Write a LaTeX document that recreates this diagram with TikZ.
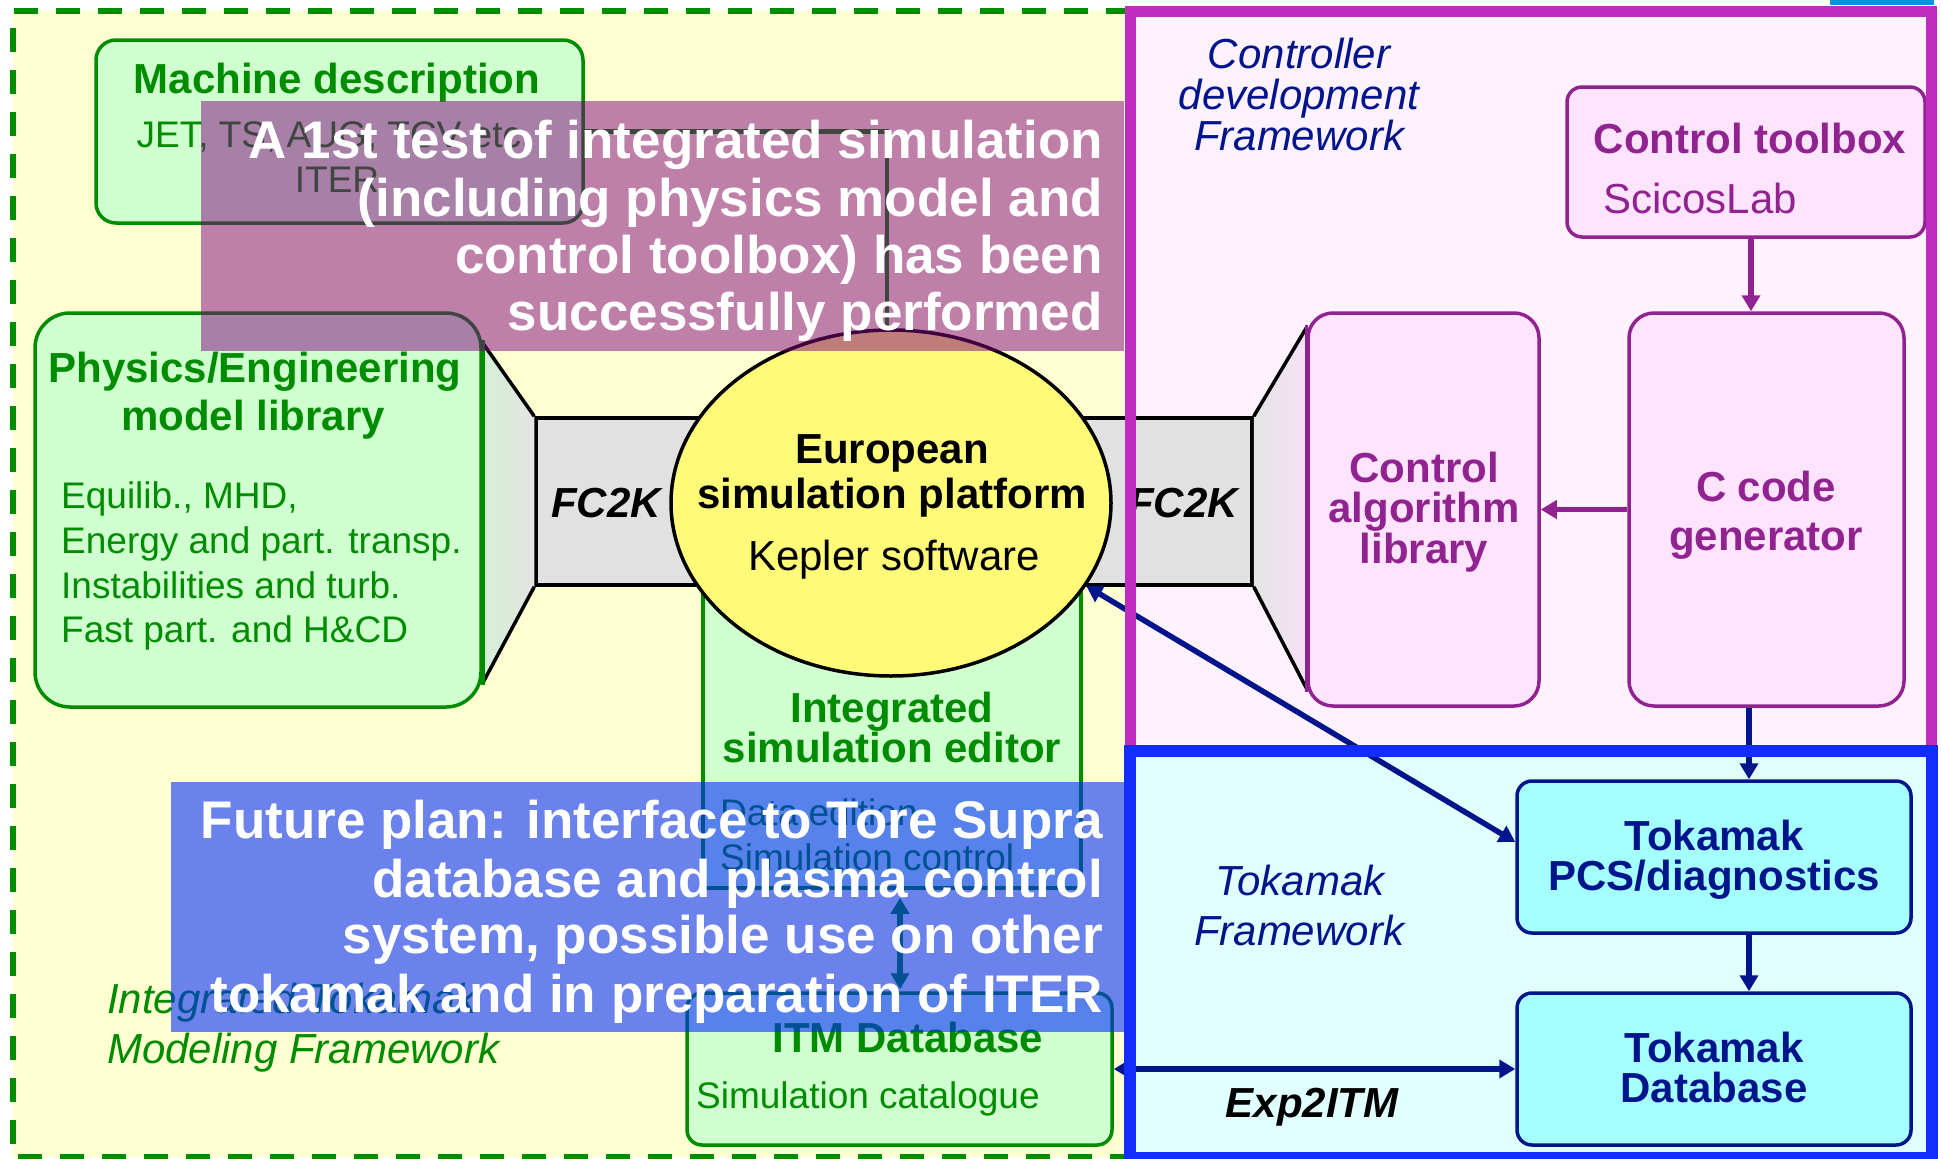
\documentclass[tikz,border=0pt]{standalone}
\usepackage{fontspec}
\setmainfont{Liberation Sans}
\usetikzlibrary{arrows.meta,calc,shapes.geometric}
\definecolor{igreen}{RGB}{0,140,0}
\definecolor{lgreen}{RGB}{208,255,208}
\definecolor{lyellow}{RGB}{255,255,210}
\definecolor{ellyellow}{RGB}{255,250,120}
\definecolor{fcgray}{RGB}{225,225,225}
\definecolor{mframe}{RGB}{190,45,190}
\definecolor{mfill}{RGB}{255,242,255}
\definecolor{mbox}{RGB}{255,228,255}
\definecolor{mdark}{RGB}{145,35,145}
\definecolor{inavy}{RGB}{0,20,140}
\definecolor{bframe}{RGB}{20,45,255}
\definecolor{cfill}{RGB}{225,255,255}
\definecolor{cbox}{RGB}{165,255,255}
\definecolor{ovpurple}{RGB}{127,0,127}
\definecolor{ovblue}{RGB}{0,40,255}
\definecolor{topblue}{RGB}{0,150,220}
\begin{document}
\begin{tikzpicture}[x=1pt,y=-1pt,
  >={Triangle[length=16pt,width=18pt]},
  txt/.style={inner sep=0pt,anchor=base},
  txtl/.style={inner sep=0pt,anchor=base west},
  txtr/.style={inner sep=0pt,anchor=base east},
  fB/.style={font=\fontsize{42}{50}\selectfont\bfseries},
  fR/.style={font=\fontsize{37}{44}\selectfont},
  fRL/.style={font=\fontsize{42}{50}\selectfont},
  fI/.style={font=\fontsize{42}{50}\selectfont\itshape},
  fBI/.style={font=\fontsize{42}{50}\selectfont\bfseries\itshape},
  fO/.style={font=\fontsize{53}{60}\selectfont\bfseries,text=white,inner sep=0pt,anchor=base east},
  gbox/.style={draw=igreen,fill=lgreen,line width=3.5pt,rounded corners=#1,inner sep=0pt},
  gbox/.default=15pt,
  mbx/.style={draw=mdark,fill=mbox,line width=3.5pt,rounded corners=#1,inner sep=0pt},
  mbx/.default=25pt,
  cbx/.style={draw=inavy,fill=cbox,line width=3.5pt,rounded corners=15pt,inner sep=0pt},
  grayb/.style={draw=black,fill=fcgray,line width=3.5pt,inner sep=0pt},
  garrow/.style={igreen,line width=5.5pt},
  marrow/.style={mdark,line width=5.5pt},
  narrow/.style={inavy,line width=5.5pt},
  overlay/.style={fill opacity=#1,draw=none}
]
\useasboundingbox (0,0) rectangle (1941,1159);
\fill[white] (0,0) rectangle (1941,1159);
% stray blue bar at top right
\fill[topblue] (1830,0) rectangle (1934,5);
% background regions
\fill[lyellow] (13,11) rectangle (1130,1157);
\draw[igreen,line width=5.5pt,dash pattern=on 24pt off 18pt] (1130,11) -- (13,11) -- (13,1157) -- (1130,1157);
\fill[mfill] (1130,11) rectangle (1931,751);
\fill[cfill] (1130,751) rectangle (1932,1158);

% Machine description
\node[gbox=20pt,minimum width=487pt,minimum height=183pt] (md) at (339.5,131.5) {};
\node[txt,fB,text=igreen] (mdt) at (337,93) {Machine description};
\node[txt,fR,text=igreen] (mdl1) at (334,147) {JET, TS, AUG, TCV etc.};
\node[txt,fR,text=igreen] (mdl2) at (337,192) {ITER};

% Physics box
\node[gbox=35pt,minimum width=446pt,minimum height=394pt] (phys) at (258,510) {};
% left FC2K box and funnel
\node[grayb,minimum width=184pt,minimum height=167pt] (fcl) at (628,501.5) {};
\shade[left color={rgb,255:red,212;green,240;blue,212},right color={rgb,255:red,228;green,228;blue,228}]
  ($(phys.east)+(0,-167)$) -- (fcl.north west) -- (fcl.south west) -- ($(phys.east)+(0,173)$) -- cycle;
\draw[black,line width=3.5pt] ($(phys.east)+(0,-167)$) -- (fcl.north west)
  (fcl.south west) -- ($(phys.east)+(0,173)$);
\draw[igreen,line width=3.5pt] ($(phys.east)+(0,-170)$) -- ($(phys.east)+(0,175)$);
\node[txt,fB,text=igreen] (pht1) at (255,382) {Physics/Engineering};
\node[txt,fB,text=igreen] (pht2) at (253,430) {model library};
\node[txtl,fR,text=igreen] (phl1) at (61,508) {Equilib., MHD,};
\node[txtl,fR,text=igreen] (phl2) at (61,553) {Energy and part. transp.};
\node[txtl,fR,text=igreen] (phl3) at (61,598) {Instabilities and turb.};
\node[txtl,fR,text=igreen] (phl4) at (61,642) {Fast part. and H\&CD};

% Integrated simulation editor
\node[draw=igreen,fill=lgreen,line width=3.5pt,inner sep=0pt,minimum width=378pt,minimum height=343pt] (ed) at (892,716.5) {};

% right FC2K box and funnel
\node[mbx,minimum width=231pt,minimum height=393pt] (cal) at (1423.5,509.5) {};
\node[grayb,minimum width=192pt,minimum height=167pt] (fcr) at (1156,501.5) {};
\shade[left color={rgb,255:red,228;green,228;blue,228},right color={rgb,255:red,246;green,226;blue,246}]
  (fcr.north east) -- ($(cal.west)+(0,-181.5)$) -- ($(cal.west)+(0,178.5)$) -- (fcr.south east) -- cycle;
\draw[black,line width=3.5pt] (fcr.north east) -- ($(cal.west)+(0,-181.5)$)
  ($(cal.west)+(0,178.5)$) -- (fcr.south east);
\draw[mdark,line width=3.5pt] ($(cal.west)+(0,-185)$) -- ($(cal.west)+(0,182)$);

% line from machine description to platform
\draw[garrow,line width=4.5pt] (md.east) -| (887,335);

% Ellipse
\node[ellipse,draw=black,fill=ellyellow,line width=3.5pt,inner sep=0pt,minimum width=440pt,minimum height=346pt] (ell) at (891,503) {};
\node[txt,fB] (elt1) at (892,463) {European};
\node[txt,fB] (elt2) at (892,508) {simulation platform};
\node[txt,fRL] (elt3) at (894,570) {Kepler software};

\node[txt,fBI] (fc1) at (606,517) {FC2K};
\node[txt,fBI] (fc2) at (1183,517) {FC2K};

% editor texts
\node[txt,fB,text=igreen] (edt1) at (892,722) {Integrated};
\node[txt,fB,text=igreen] (edt2) at (892,762) {simulation editor};
\node[txtl,fR,text=igreen] (edl1) at (720,825) {Data edition};
\node[txtl,fR,text=igreen] (edl2) at (720,870) {Simulation control};

% ITM database
\node[gbox=15pt,minimum width=425pt,minimum height=152pt] (itm) at (899.5,1069) {};
\node[txt,fB,text=igreen] (itmt) at (908,1052) {ITM Database};
\node[txtl,fR,text=igreen] (itml) at (696,1108) {Simulation catalogue};
\coordinate (ax2) at (900,0);
\draw[garrow,<->,shorten <=8pt,shorten >=2pt] (ed.south -| ax2) -- (itm.north -| ax2);

\node[txtl,fI,text=igreen] (itf1) at (107,1013) {Integrated Tokamak};
\node[txtl,fI,text=igreen] (itf2) at (107,1063) {Modeling Framework};

% Controller development framework
\node[txt,fI,text=inavy] (cf1) at (1299,68) {Controller};
\node[txt,fI,text=inavy] (cf2) at (1299,109) {development};
\node[txt,fI,text=inavy] (cf3) at (1299,150) {Framework};

\node[mbx=15pt,minimum width=358pt,minimum height=150pt] (tb) at (1746,162) {};
\node[txt,fB,text=mdark] (tbt) at (1750,153) {Control toolbox};
\node[txtl,fRL,text=mdark] (tbl) at (1603,213) {ScicosLab};

\node[mbx,minimum width=275pt,minimum height=393pt] (ccg) at (1766.5,509.5) {};
\node[txt,fB,text=mdark] (cct1) at (1766,501) {C code};
\node[txt,fB,text=mdark] (cct2) at (1766,550) {generator};

\node[txt,fB,text=mdark] (calt1) at (1424,482) {Control};
\node[txt,fB,text=mdark] (calt2) at (1424,522) {algorithm};
\node[txt,fB,text=mdark] (calt3) at (1424,563) {library};

\coordinate (ax3) at (1751,0);
\draw[marrow,->] (tb.south -| ax3) -- (ccg.north -| ax3);
\draw[marrow,->] (ccg.west) -- (cal.east);

% Tokamak framework
\node[txt,fI,text=inavy] (tf1) at (1300,895) {Tokamak};
\node[txt,fI,text=inavy] (tf2) at (1299,945) {Framework};

\node[cbx,minimum width=394pt,minimum height=152pt] (pcs) at (1714,857) {};
\node[txt,fB,text=inavy] (pcst1) at (1714,850) {Tokamak};
\node[txt,fB,text=inavy] (pcst2) at (1714,890) {PCS/diagnostics};
\node[cbx,minimum width=394pt,minimum height=152pt] (tdb) at (1714,1069) {};
\node[txt,fB,text=inavy] (tdbt1) at (1714,1062) {Tokamak};
\node[txt,fB,text=inavy] (tdbt2) at (1714,1102) {Database};

\coordinate (ax1) at (1749,0);
\draw[narrow,->] (ccg.south -| ax1) -- (pcs.north -| ax1);
\draw[narrow,->] (pcs.south -| ax1) -- (tdb.north -| ax1);
\draw[narrow,<->] (ell.-23.5) -- ($(pcs.west)+(0,-15)$);
\draw[narrow,<->] (itm.east) -- (tdb.west);
\node[txt,fBI] (e2i) at (1312,1117) {Exp2ITM};

% frame borders
\draw[mframe,line width=11pt] (1130,11) rectangle (1931,751);
\draw[bframe,line width=12pt] (1130,751) rectangle (1932,1158);

% overlay 1
\fill[ovpurple,overlay=0.5] (201,101) rectangle (1124,351);
\node[fO] (o1a) at (1103,158) {A 1st test of integrated simulation};
\node[fO] (o1b) at (1103,216) {(including physics model and};
\node[fO] (o1c) at (1103,273) {control toolbox) has been};
\node[fO] (o1d) at (1103,330) {successfully performed};
% overlay 2
\fill[ovblue,overlay=0.58] (171,782) rectangle (1124,1032);
\node[fO] (o2a) at (1103,838) {Future plan: interface to Tore Supra};
\node[fO] (o2b) at (1103,897) {database and plasma control};
\node[fO] (o2c) at (1103,953) {system, possible use on other};
\node[fO] (o2d) at (1103,1012) {tokamak and in preparation of ITER};
\end{tikzpicture}
\end{document}
